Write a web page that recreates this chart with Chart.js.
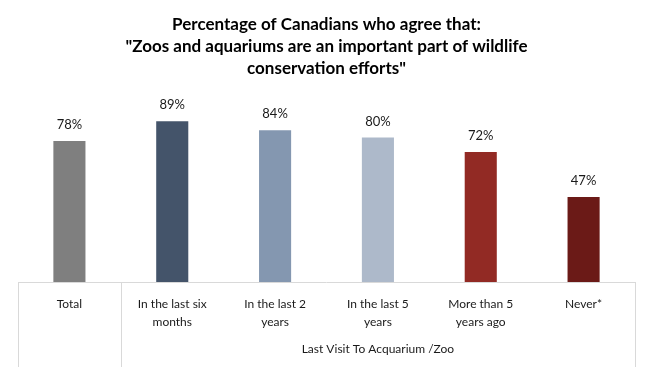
<!DOCTYPE html>
<html>
<head>
<meta charset="utf-8">
<script src="https://cdn.jsdelivr.net/npm/chart.js@4.4.0/dist/chart.umd.min.js"></script>
<style>
  html, body { margin: 0; padding: 0; background: #fff; }
  #wrap { width: 652px; height: 367px; }
</style>
</head>
<body>
<div id="wrap"><canvas id="canvas" width="652" height="367"></canvas></div>
<script>
// data
const titleLines = ['Percentage of Canadians who agree that:', '"Zoos and aquariums are an important part of wildlife', 'conservation efforts"']
const categories = [['Total'], ['In the last six', 'months'], ['In the last 2', 'years'], ['In the last 5', 'years'], ['More than 5', 'years ago'], ['Never*']]
const agreeValues = [78, 89, 84, 80, 72, 47]
const barColors = ['#7f7f7f', '#44546a', '#8497b0', '#adb9ca', '#922a24', '#6b1a17']
const groupLabel = 'Last Visit To Acquarium /Zoo'

const FONT = 'Lato'

// draws the value labels, the table lines under the axis and the group label
const tablePlugin = {
    id: 'tableAxis',
    afterDatasetsDraw(chart) {
        const ctx = chart.ctx
        const x = chart.scales.x
        const area = chart.chartArea
        const meta = chart.getDatasetMeta(0)

        ctx.save()
        ctx.fillStyle = '#1a1a1a'
        ctx.font = '13px ' + FONT
        ctx.textAlign = 'center'
        ctx.textBaseline = 'middle'
        meta.data.forEach((bar, i) => {
            ctx.fillText(agreeValues[i] + '%', bar.x, bar.y - 16)
        })

        // lines
        const step = (x.right - x.left) / categories.length
        ctx.strokeStyle = '#d9d9d9'
        ctx.lineWidth = 1
        ctx.beginPath()
        ctx.moveTo(x.left, area.bottom + 0.5)
        ctx.lineTo(x.right, area.bottom + 0.5)
        const verts = [x.left, x.left + step, x.right]
        verts.forEach(v => {
            ctx.moveTo(Math.round(v) + 0.5, area.bottom)
            ctx.lineTo(Math.round(v) + 0.5, chart.height)
        })
        ctx.stroke()

        ctx.font = '12px ' + FONT
        ctx.fillText(groupLabel, (x.left + step + x.right) / 2, 349)
        ctx.restore()
    }
}

new Chart(document.querySelector('#canvas'), {
    type: 'bar',
    data: {
        labels: categories,
        datasets: [{
            data: agreeValues,
            backgroundColor: barColors,
            borderWidth: 0,
            categoryPercentage: 1,
            barPercentage: 0.312
        }]
    },
    options: {
        responsive: false,
        animation: false,
        layout: {
            padding: { left: 18, right: 17, bottom: 0, top: 0 }
        },
        scales: {
            x: {
                grid: { display: false },
                border: { display: false },
                ticks: {
                    color: '#1a1a1a',
                    padding: 5,
                    maxRotation: 0,
                    autoSkip: false,
                    font: { family: FONT, size: 12, lineHeight: 1.5 }
                },
                afterFit(scale) {
                    scale.height = 85
                }
            },
            y: {
                display: false,
                min: 0,
                max: 100
            }
        },
        plugins: {
            legend: { display: false },
            tooltip: { enabled: false },
            title: {
                display: true,
                text: titleLines,
                color: '#000',
                padding: { top: 13, bottom: 22 },
                font: { family: FONT, size: 17, weight: 'bold', lineHeight: 1.3 }
            }
        }
    },
    plugins: [tablePlugin]
})
</script>
</body>
</html>
